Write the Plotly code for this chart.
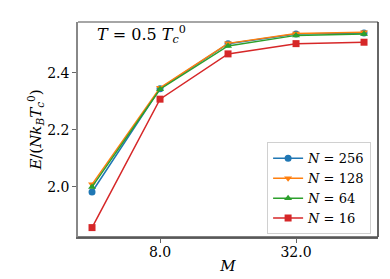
import plotly.graph_objects as go

M = [4, 8, 16, 32, 64]
E_256 = [1.982, 2.345, 2.503, 2.537, 2.540]
E_128 = [2.009, 2.348, 2.504, 2.539, 2.543]
E_64 = [2.000, 2.343, 2.495, 2.532, 2.537]
E_16 = [1.857, 2.308, 2.467, 2.503, 2.508]
err = [0.003, 0.003, 0.003, 0.003, 0.003]

series = [
    ("<i>N</i> = 256", E_256, "#1f77b4", "circle"),
    ("<i>N</i> = 128", E_128, "#ff7f0e", "triangle-down"),
    ("<i>N</i> = 64", E_64, "#2ca02c", "triangle-up"),
    ("<i>N</i> = 16", E_16, "#d62728", "square"),
]

FONT = "'DejaVu Serif', 'Liberation Serif', serif"

fig = go.Figure()
for name, ys, col, sym in series:
    fig.add_trace(go.Scatter(
        x=M, y=ys, name=name, mode="lines+markers",
        line=dict(color=col, width=1.5),
        marker=dict(color=col, symbol=sym, size=7),
        error_y=dict(type="data", array=err, color=col, thickness=1, width=2),
    ))

fig.update_layout(
    width=382, height=271,
    margin=dict(l=70, r=12, t=14, b=42),
    paper_bgcolor="white", plot_bgcolor="white",
    font=dict(family=FONT, size=13, color="black"),
    showlegend=True,
    legend=dict(x=0.977, y=0.012, xanchor="right", yanchor="bottom",
                bgcolor="rgba(255,255,255,0.8)", bordercolor="#d0d0d0", borderwidth=1,
                font=dict(family=FONT, size=13), itemwidth=30, tracegroupgap=0),
    xaxis=dict(type="log", range=[0.540, 1.868], tickvals=[8, 32], ticktext=["8.0", "32.0"],
               ticks="outside", ticklen=4, tickcolor="#666", showgrid=False, zeroline=False,
               showline=True, linecolor="#666", linewidth=1.5, mirror=False, automargin=False,
               tickfont=dict(family=FONT, size=14), ticklabelstandoff=-3,
               title=dict(text="<i>M</i>", standoff=2, font=dict(family=FONT, size=15))),
    yaxis=dict(range=[1.824, 2.579], tickvals=[2.0, 2.2, 2.4], ticktext=["2.0", "2.2", "2.4"],
               ticks="outside", ticklen=4, tickcolor="#666", showgrid=False, zeroline=False,
               showline=True, linecolor="#888", linewidth=1.5, mirror=False, automargin=False,
               tickfont=dict(family=FONT, size=14),
               title=dict(text="<i>E</i>/(<i>Nk</i><sub><i>B</i></sub><i>T</i><sub><i>c</i></sub><sup>0</sup>)",
                          standoff=2, font=dict(family=FONT, size=15))),
    shapes=[
        dict(type="line", xref="paper", yref="paper", x0=0, x1=1, y0=1, y1=1,
             line=dict(color="#888", width=1.5)),
        dict(type="line", xref="paper", yref="paper", x0=1, x1=1, y0=0, y1=1,
             line=dict(color="#333", width=1.5)),
        dict(type="line", xref="paper", yref="paper", x0=0, x1=1, y0=0, y1=0,
             line=dict(color="#555", width=1.5)),
    ],
    annotations=[
        dict(text="<i>T</i> = 0.5 <i>T</i><sub><i>c</i></sub><sup>0</sup>", xref="paper", yref="paper",
             x=0.057, y=0.94, xanchor="left", yanchor="middle", showarrow=False,
             font=dict(family=FONT, size=16)),
    ],
)

fig.write_html("out.html")
